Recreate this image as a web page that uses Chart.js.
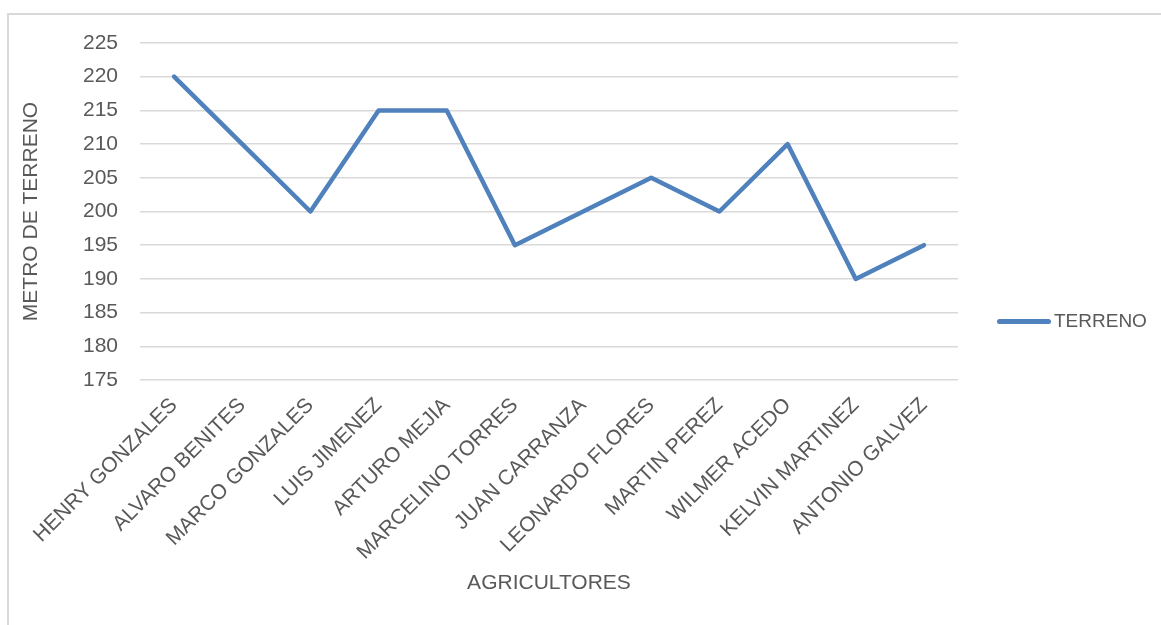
<!DOCTYPE html>
<html>
<head>
<meta charset="utf-8">
<script src="https://cdn.jsdelivr.net/npm/chart.js@4"></script>
<style>
  html, body { margin: 0; padding: 0; background: #fff; overflow: hidden; }
  body { width: 1161px; height: 625px; position: relative; font-family: 'Liberation Sans', sans-serif; }
  .frame { position: absolute; left: 7px; top: 13px; width: 1300px; height: 800px;
           border-left: 2px solid #d9d9d9; border-top: 2px solid #d9d9d9; }
  #wrap { position: absolute; left: 0; top: 0; width: 1161px; height: 625px; }
  .legend { position: absolute; left: 997px; top: 310px; display: flex; align-items: center;
            color: #595959; font-size: 19px; }
  .legend .swatch { width: 54px; height: 5px; border-radius: 3px; background: #4f81bd; margin-right: 3px; }
</style>
</head>
<body>
<div class="frame"></div>
<div id="wrap"><canvas id="chart"></canvas></div>
<div class="legend"><span class="swatch"></span><span id="legendLabel"></span></div>
<script>
'use strict';

// ── DATA ─────────────────────────────────────────────────────
const categories = [
  'HENRY GONZALES', 'ALVARO BENITES', 'MARCO GONZALES', 'LUIS JIMENEZ',
  'ARTURO MEJIA', 'MARCELINO TORRES', 'JUAN CARRANZA', 'LEONARDO FLORES',
  'MARTIN PEREZ', 'WILMER ACEDO', 'KELVIN MARTINEZ', 'ANTONIO GALVEZ',
];
const terreno = [220, 210, 200, 215, 215, 195, 200, 205, 200, 210, 190, 195];
const seriesName = 'TERRENO';
const yTicks = { min: 175, max: 225, step: 5 };

// ── STYLE ────────────────────────────────────────────────────
const TEXT = '#595959';
const GRID = '#d9d9d9';
const LINE = '#4f81bd';
const FONT = { family: "'Liberation Sans', sans-serif", size: 21 };

document.getElementById('legendLabel').textContent = seriesName;

new Chart(document.getElementById('chart'), {
  type: 'line',
  data: {
    labels: categories,
    datasets: [{
      label: seriesName,
      data: terreno,
      borderColor: LINE,
      borderWidth: 4.5,
      borderCapStyle: 'round',
      borderJoinStyle: 'round',
      pointRadius: 0,
      fill: false,
      tension: 0,
    }],
  },
  options: {
    responsive: true,
    maintainAspectRatio: false,
    animation: false,
    layout: { padding: { left: 8, top: 43, right: 203, bottom: 20 } },
    plugins: { legend: { display: false }, tooltip: { enabled: false } },
    scales: {
      x: {
        offset: true,
        grid: { display: false },
        border: { display: false },
        ticks: { color: TEXT, font: FONT, minRotation: 45, maxRotation: 45, padding: 5, autoSkip: false },
        title: { display: true, text: 'AGRICULTORES', color: TEXT, font: FONT, padding: { top: 0, bottom: 9 } },
        afterFit: s => { s.height = 225; },
      },
      y: {
        min: yTicks.min,
        max: yTicks.max,
        grid: { color: GRID, lineWidth: 1.5, drawTicks: false },
        border: { display: false },
        ticks: { stepSize: yTicks.step, color: TEXT, font: FONT, padding: 22 },
        title: { display: true, text: 'METRO DE TERRENO', color: TEXT, font: FONT, padding: { top: 11, bottom: 0 } },
        afterFit: s => { s.width = 132; },
      },
    },
  },
});
</script>
</body>
</html>
